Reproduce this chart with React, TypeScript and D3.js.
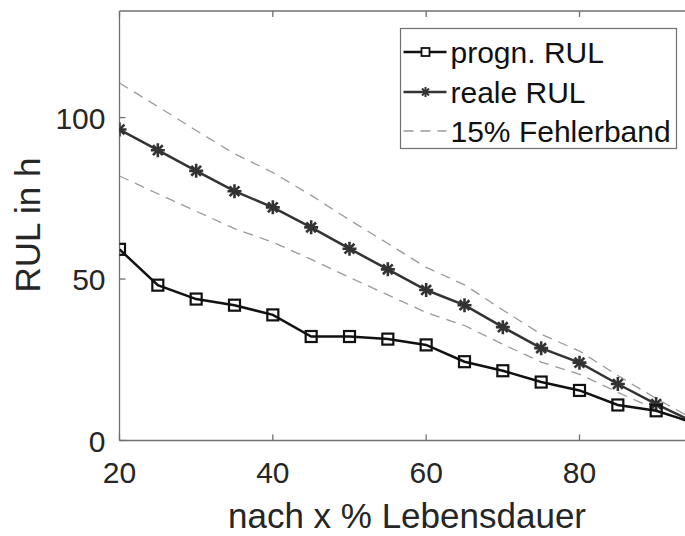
import React from "react";
import * as d3 from "d3";

const lifePercent = [20, 25, 30, 35, 40, 45, 50, 55, 60, 65, 70, 75, 80, 85, 90, 95];
const prognRUL = [59.2, 48.1, 43.8, 41.9, 38.9, 32.2, 32.2, 31.4, 29.6, 24.4, 21.6, 18.1, 15.5, 11.0, 9.2, 5.4];
const realRUL = [96.3, 89.9, 83.5, 77.2, 72.2, 66.0, 59.4, 53.0, 46.6, 41.9, 35.1, 28.6, 24.1, 17.5, 11.3, 5.6];
const bandUpper = [110.7, 103.4, 96.0, 88.8, 83.0, 75.9, 68.3, 61.0, 53.6, 48.2, 40.4, 32.9, 27.7, 20.1, 13.0, 6.4];
const bandLower = [81.9, 76.4, 71.0, 65.6, 61.4, 56.1, 50.5, 45.1, 39.6, 35.6, 29.8, 24.3, 20.5, 14.9, 9.6, 4.8];
const xTicks = [20, 40, 60, 80];
const yTicks = [0, 50, 100];
const legendLabels = ["progn. RUL", "reale RUL", "15% Fehlerband"];
const xLabel = "nach x % Lebensdauer";
const yLabel = "RUL in h";

const W = 685;
const H = 536;
const left = 119.5;
const right = 694.5;
const top = 11;
const bottom = 440.5;
const FONT = "'Liberation Sans', Arial, Helvetica, sans-serif";

function Star({ x, y, s, color, w = 2 }: { x: number; y: number; s: number; color: string; w?: number }) {
  const d = s * 0.7;
  return (
    <g stroke={color} strokeWidth={w}>
      <line x1={x - s} y1={y} x2={x + s} y2={y} />
      <line x1={x} y1={y - s} x2={x} y2={y + s} />
      <line x1={x - d} y1={y - d} x2={x + d} y2={y + d} />
      <line x1={x - d} y1={y + d} x2={x + d} y2={y - d} />
    </g>
  );
}

export default function App() {
  const x = d3.scaleLinear().domain([20, 95]).range([left, right]);
  const y = d3.scaleLinear().domain([0, 133]).range([bottom, top]);
  const line = (vals: number[]) =>
    d3
      .line<number>()
      .x((_, i) => x(lifePercent[i]))
      .y((v) => y(v))(vals) as string;

  const axisColor = "#707070";
  const textColor = "#262626";

  const lgX = 400.5;
  const lgY = 28.5;
  const lgW = 276;
  const lgH = 120;
  const rows = [52, 92, 131];

  return (
    <svg width={W} height={H} style={{ position: "absolute", left: 0, top: 0 }}>
      <rect x={0} y={0} width={W} height={H} fill="#fff" />
      <defs>
        <clipPath id="plot">
          <rect x={left} y={top} width={right - left} height={bottom - top} />
        </clipPath>
      </defs>
      <line x1={left} y1={bottom} x2={right} y2={bottom} stroke={axisColor} strokeWidth={1.3} />
      <line x1={left} y1={top} x2={right} y2={top} stroke={axisColor} strokeWidth={1.3} />
      <line x1={left} y1={top} x2={left} y2={bottom} stroke={axisColor} strokeWidth={1.3} />
      {xTicks.map((t) => (
        <g key={"xt" + t}>
          <line x1={x(t)} y1={bottom} x2={x(t)} y2={bottom - 6} stroke={axisColor} strokeWidth={1.3} />
          <line x1={x(t)} y1={top} x2={x(t)} y2={top + 6} stroke={axisColor} strokeWidth={1.3} />
          <text x={x(t)} y={bottom + 42} textAnchor="middle" fontFamily={FONT} fontSize={30} fill={textColor}>
            {t}
          </text>
        </g>
      ))}
      {yTicks.map((t) => (
        <g key={"yt" + t}>
          <line x1={left} y1={y(t)} x2={left + 6} y2={y(t)} stroke={axisColor} strokeWidth={1.3} />
          <text x={left - 14} y={y(t) + 11} textAnchor="end" fontFamily={FONT} fontSize={30} fill={textColor}>
            {t}
          </text>
        </g>
      ))}
      <text x={(left + right) / 2} y={528} textAnchor="middle" fontFamily={FONT} fontSize={35} fill={textColor}>
        {xLabel}
      </text>
      <text
        transform={`translate(40,${225}) rotate(-90)`}
        textAnchor="middle"
        fontFamily={FONT}
        fontSize={35}
        fill={textColor}
      >
        {yLabel}
      </text>

      <g clipPath="url(#plot)">
        <path d={line(bandUpper)} fill="none" stroke="#9a9a9a" strokeWidth={1.3} strokeDasharray="10,7" />
        <path d={line(bandLower)} fill="none" stroke="#9a9a9a" strokeWidth={1.3} strokeDasharray="10,7" />
        <path d={line(realRUL)} fill="none" stroke="#333" strokeWidth={2.5} />
        {realRUL.map((v, i) => (
          <Star key={"s" + i} x={x(lifePercent[i])} y={y(v)} s={7} w={2.6} color="#333" />
        ))}
        <path d={line(prognRUL)} fill="none" stroke="#111" strokeWidth={2.5} />
        {prognRUL.map((v, i) => (
          <rect
            key={"p" + i}
            x={x(lifePercent[i]) - 5.5}
            y={y(v) - 5.5}
            width={11}
            height={11}
            fill="none"
            stroke="#111"
            strokeWidth={2.2}
          />
        ))}
      </g>

      <rect x={lgX} y={lgY} width={lgW} height={lgH} fill="#fff" stroke={axisColor} strokeWidth={1.2} />
      <line x1={lgX + 3} y1={rows[0]} x2={lgX + 46} y2={rows[0]} stroke="#111" strokeWidth={2.5} />
      <rect x={lgX + 21} y={rows[0] - 4} width={8} height={8} fill="#fff" stroke="#111" strokeWidth={1.8} />
      <line x1={lgX + 3} y1={rows[1]} x2={lgX + 46} y2={rows[1]} stroke="#333" strokeWidth={2.5} />
      <Star x={lgX + 25} y={rows[1]} s={5} color="#333" />
      <line x1={lgX + 3} y1={rows[2]} x2={lgX + 46} y2={rows[2]} stroke="#9a9a9a" strokeWidth={1.3} strokeDasharray="10,7" />
      {legendLabels.map((l, i) => (
        <text key={l} x={lgX + 50} y={rows[i] + 11} fontFamily={FONT} fontSize={30} fill="#111">
          {l}
        </text>
      ))}
    </svg>
  );
}
